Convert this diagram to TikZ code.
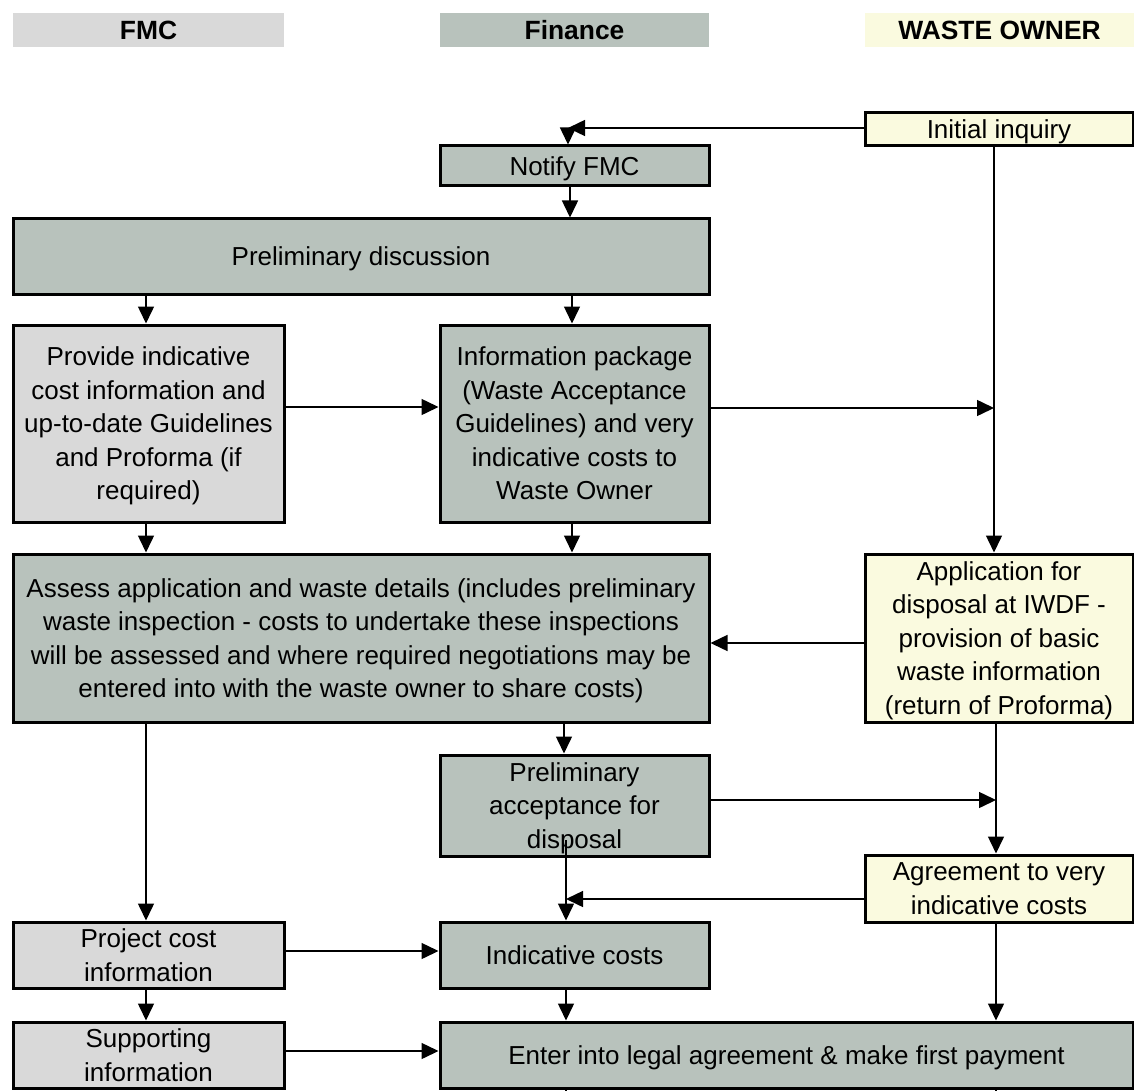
\documentclass[tikz,border=0pt]{standalone}
\usepackage{fontspec}
\setmainfont{Liberation Sans}
\usetikzlibrary{arrows.meta}
\definecolor{fmcgray}{HTML}{D9D9D9}
\definecolor{fingray}{HTML}{B8C2BC}
\definecolor{ownyel}{HTML}{FAFADF}
\tikzset{
  txt/.style={font=\fontsize{13}{16.75}\selectfont, align=center, inner sep=0pt, text depth=0pt},
  hdr/.style={font=\fontsize{13.2}{16}\selectfont\bfseries, inner sep=0pt, minimum height=17pt},
  box/.style={txt, draw=black, line width=1.5pt},
  fmc/.style={box, fill=fmcgray},
  fin/.style={box, fill=fingray},
  own/.style={box, fill=ownyel},
  arr/.style={line width=0.75pt, -{Triangle[length=8.5pt,width=8pt]}},
  ln/.style={line width=0.75pt},
}
\begin{document}
\begin{tikzpicture}[x=0.5pt, y=-0.5pt]
\useasboundingbox (0,0) rectangle (1134,1091);

% lane headers
\node[hdr, fill=fmcgray, minimum width=135.5pt] (hfmc) at (148.5,30) {FMC};
\node[hdr, fill=fingray, minimum width=134.5pt] (hfin) at (574.5,30) {Finance};
\node[hdr, fill=ownyel, minimum width=134.5pt] (hown) at (999.5,30) {WASTE OWNER};

% process steps
\node[own, minimum width=134pt, minimum height=16.5pt] (ini) at (999,129.5) {Initial inquiry};
\node[fin, minimum width=134.5pt, minimum height=20pt] (notify) at (574.5,166) {Notify FMC};
\node[fin, minimum width=348pt, minimum height=37.5pt] (disc) at (361,256.5) {Preliminary discussion};
\node[fmc, minimum width=135.5pt, minimum height=98.5pt] (provide) at (148.5,423.5)
  {Provide indicative\\cost information and\\up-to-date Guidelines\\and Proforma (if\\required)};
\node[fin, minimum width=134.5pt, minimum height=98.5pt] (infopkg) at (574.5,423.5)
  {Information package\\(Waste Acceptance\\Guidelines) and very\\indicative costs to\\Waste Owner};
\node[fin, minimum width=348pt, minimum height=84pt] (assess) at (361,638)
  {Assess application and waste details (includes preliminary\\waste inspection - costs to undertake these inspections\\will be assessed and where required negotiations may be\\entered into with the waste owner to share costs)};
\node[own, minimum width=134pt, minimum height=84pt] (appl) at (999,638)
  {Application for\\disposal at IWDF -\\provision of basic\\waste information\\(return of Proforma)};
\node[fin, minimum width=134.5pt, minimum height=50.5pt] (prelacc) at (574.5,805.5)
  {Preliminary\\acceptance for\\disposal};
\node[own, minimum width=134pt, minimum height=33.5pt] (agree) at (999,888.5)
  {Agreement to very\\indicative costs};
\node[fmc, minimum width=135.5pt, minimum height=33pt] (projcost) at (148.5,955)
  {Project cost\\information};
\node[fin, minimum width=134.5pt, minimum height=33pt] (indic) at (574.5,955)
  {Indicative costs};
\node[fmc, minimum width=135.5pt, minimum height=33pt] (support) at (148.5,1055)
  {Supporting\\information};
\node[fin, minimum width=346.5pt, minimum height=33pt] (enter) at (786.5,1055)
  {Enter into legal agreement \& make first payment};

% lane positions of the connectors
\coordinate (x146) at (146,0);
\coordinate (x564) at (564,0);
\coordinate (x566) at (566,0);
\coordinate (x568) at (568,0);
\coordinate (x570) at (570,0);
\coordinate (x572) at (572,0);
\coordinate (x994) at (994,0);
\coordinate (x996) at (996,0);
\coordinate (y407) at (0,407);
\coordinate (y408) at (0,408);
\coordinate (y643) at (0,643);
\coordinate (y800) at (0,800);
\coordinate (y840) at (0,840);
\coordinate (y899) at (0,899);
\coordinate (y951) at (0,951);
\coordinate (y1051) at (0,1051);
\coordinate (ybot) at (0,1091);
\coordinate (njoin) at (568,128);

% connectors
\draw[arr] (ini.west |- njoin) -- (njoin);
\draw[arr] (njoin) -- (notify.north -| x568);
\draw[arr] (notify.south -| x570) -- (disc.north -| x570);
\draw[arr] (disc.south -| x146) -- (provide.north -| x146);
\draw[arr] (disc.south -| x572) -- (infopkg.north -| x572);
\draw[arr] (provide.east |- y407) -- (infopkg.west |- y407);
\draw[arr] (infopkg.east |- y408) -- (x994 |- y408);
\draw[arr] (ini.south -| x994) -- (appl.north -| x994);
\draw[arr] (provide.south -| x146) -- (assess.north -| x146);
\draw[arr] (infopkg.south -| x572) -- (assess.north -| x572);
\draw[arr] (appl.west |- y643) -- (assess.east |- y643);
\draw[arr] (assess.south -| x564) -- (prelacc.north -| x564);
\draw[arr] (assess.south -| x146) -- (projcost.north -| x146);
\draw[arr] (appl.south -| x996) -- (agree.north -| x996);
\draw[arr] (prelacc.east |- y800) -- (x996 |- y800);
\draw[arr] (x566 |- y840) -- (indic.north -| x566);
\draw[arr] (agree.west |- y899) -- (x566 |- y899);
\draw[arr] (projcost.east |- y951) -- (indic.west |- y951);
\draw[arr] (projcost.south -| x146) -- (support.north -| x146);
\draw[arr] (indic.south -| x566) -- (enter.north -| x566);
\draw[arr] (agree.south -| x996) -- (enter.north -| x996);
\draw[arr] (support.east |- y1051) -- (enter.west |- y1051);
\draw[ln] (enter.south -| x566) -- (x566 |- ybot);
\draw[ln] (enter.south -| x996) -- (x996 |- ybot);
\end{tikzpicture}
\end{document}
